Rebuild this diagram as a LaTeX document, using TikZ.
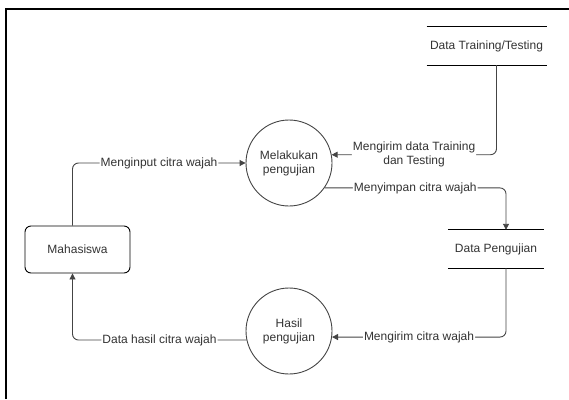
\documentclass[tikz,border=0pt]{standalone}
\usepackage{xcolor}
\usepackage{fontspec}
\setmainfont{Liberation Sans}
\usepackage{tikz}
\usetikzlibrary{arrows.meta}

\definecolor{lineclr}{HTML}{444444}
\definecolor{textclr}{HTML}{333333}

\tikzset{
	proses/.style={circle, draw=lineclr, line width=0.9pt, minimum size=86pt, inner sep=0pt, align=center, text=textclr, font=\fontsize{12}{14}\selectfont},
	entitas/.style={rectangle, rounded corners=6pt, draw=black, line width=0.9pt, minimum width=105pt, minimum height=47pt, text=textclr, font=\fontsize{12}{14}\selectfont},
	simpan/.style={rectangle, minimum height=38pt, text=textclr, font=\fontsize{12}{14}\selectfont},
	alur/.style={draw=lineclr, line width=0.9pt, rounded corners=6pt, -{Triangle[length=6pt,width=6pt]}},
	ket/.style={fill=white, inner sep=1pt, text=textclr, font=\fontsize{12}{14}\selectfont}
}

\begin{document}
\begin{tikzpicture}[x=1pt,y=-1pt]

	\useasboundingbox (0,0) rectangle (569,399);
	% bingkai
	\draw[line width=1.2pt] (6,399) -- (6,9) -- (569,9);

	% entitas dan proses
	\node[entitas] (mhs) at (77.5,249.5) {Mahasiswa};
	\node[proses] (uji) at (289,163) {Melakukan\\pengujian};
	\node[proses] (hsl) at (289,331) {Hasil\\pengujian};

	% data store
	\node[simpan, minimum width=117pt] (dtt) at (486.5,46) {Data Training/Testing};
	\draw[line width=0.9pt] (dtt.north west) -- (dtt.north east);
	\draw[line width=0.9pt] (dtt.south west) -- (dtt.south east);
	\node[simpan, minimum width=96pt] (dpj) at (496,249) {Data Pengujian};
	\draw[line width=0.9pt] (dpj.north west) -- (dpj.north east);
	\draw[line width=0.9pt] (dpj.south west) -- (dpj.south east);

	% aliran data
	\draw[alur] ([xshift=-5pt]mhs.north) |- node[ket, pos=0.75]{Menginput citra wajah} (uji.180);
	\draw[alur] ([xshift=10pt]dtt.south) |- node[ket, pos=0.75, align=center]{Mengirim data Training\\dan Testing} (uji.11);
	\draw[alur] (uji.-35) -| node[ket, pos=0.25]{Menyimpan citra wajah} ([xshift=10pt]dpj.north);
	\draw[alur] ([xshift=10pt]dpj.south) |- node[ket, pos=0.75]{Mengirim citra wajah} (hsl.-8);
	\draw[alur] (hsl.192) -| node[ket, pos=0.25]{Data hasil citra wajah} ([xshift=-5pt]mhs.south);

\end{tikzpicture}
\end{document}
